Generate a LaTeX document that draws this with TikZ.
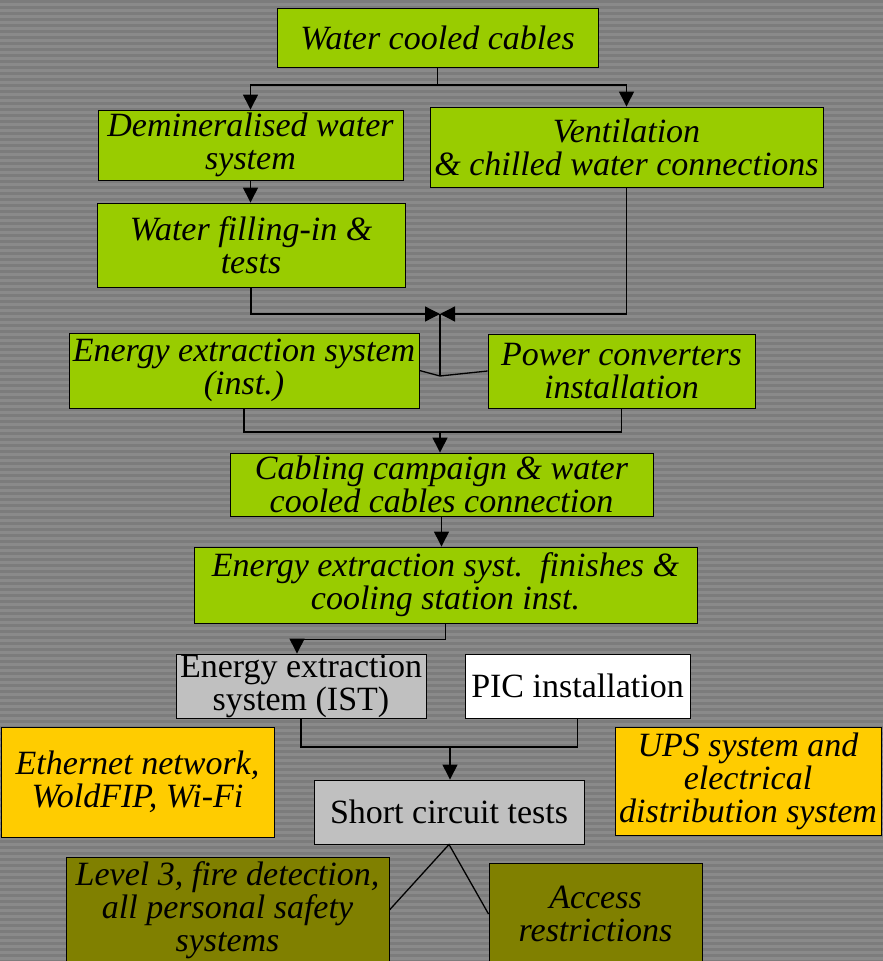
\documentclass[tikz,border=0pt]{standalone}
\usepackage{fontspec}
\setmainfont{Liberation Serif}
\usetikzlibrary{arrows.meta}
\definecolor{bgbase}{RGB}{138,138,138}
\definecolor{bgstripe}{RGB}{124,124,124}
\definecolor{lgreen}{RGB}{153,204,0}
\definecolor{lgray}{RGB}{192,192,192}
\definecolor{goldbox}{RGB}{255,204,0}
\definecolor{olivebox}{RGB}{128,128,0}
\tikzset{
  box/.style={draw=black, line width=0.9pt, inner sep=0pt, align=center,
    font=\fontsize{34}{33}\selectfont\itshape},
  gbox/.style={box, fill=lgreen},
  graybox/.style={box, fill=lgray, font=\fontsize{34}{33}\selectfont\upshape},
  whitebox/.style={box, fill=white, font=\fontsize{34}{33}\selectfont\upshape},
  ybox/.style={box, fill=goldbox},
  obox/.style={box, fill=olivebox},
  conn/.style={draw=black, line width=1.3pt},
  arr/.style={conn, -{Triangle[width=15pt,length=15pt]}}
}
\begin{document}
\begin{tikzpicture}[x=1pt,y=-1pt]
\useasboundingbox (0,0) rectangle (883,961);
\clip (0,0) rectangle (883,961);
\fill[bgbase] (0,0) rectangle (883,961);
\foreach \y in {0,6,...,960} \fill[bgstripe] (0,\y) rectangle (883,\y+2.5);

\node[gbox, minimum width=321pt, minimum height=59pt] (wcc) at (437.5,37.5) {Water cooled cables};
\node[gbox, minimum width=305pt, minimum height=70pt] (demin) at (250.5,145) {Demineralised water\\system};
\node[gbox, minimum width=393pt, minimum height=80pt] (vent) at (626.5,147) {Ventilation\\\& chilled water connections};
\node[gbox, minimum width=308pt, minimum height=84pt] (fill) at (251,245) {Water filling-in \&\\tests};
\node[gbox, minimum width=350pt, minimum height=75pt] (eext) at (244,370.5) {Energy extraction system\\(inst.)};
\node[gbox, minimum width=267pt, minimum height=74pt] (pconv) at (621.5,371) {Power converters\\installation};
\node[gbox, minimum width=423pt, minimum height=63pt] (cabl) at (441.5,484.5) {Cabling campaign \& water\\cooled cables connection};
\node[gbox, minimum width=503pt, minimum height=76pt] (fin) at (445.5,585) {Energy extraction syst.\ \ finishes \&\\cooling station inst.};
\node[graybox, minimum width=250pt, minimum height=64pt] (ist) at (301,686) {Energy extraction\\system (IST)};
\node[whitebox, minimum width=225pt, minimum height=64pt] (pic) at (577.5,686) {PIC installation};
\node[ybox, minimum width=273pt, minimum height=110pt] (eth) at (137.5,782) {Ethernet network,\\WoldFIP, Wi-Fi};
\node[ybox, minimum width=266pt, minimum height=108pt] (ups) at (748,781) {UPS system and\\electrical\\distribution system};
\node[graybox, minimum width=270pt, minimum height=64pt] (sct) at (449,812) {Short circuit tests};
\node[obox, minimum width=323pt, minimum height=106pt] (lvl) at (227.5,910) {Level 3, fire detection,\\all personal safety\\systems};
\node[obox, minimum width=213pt, minimum height=102pt] (acc) at (595.5,914) {Access\\restrictions};

% connectors
\coordinate (j1) at (437.5,85);
\draw[conn] (wcc.south) -- (j1);
\draw[arr] (j1) -| (demin.north);
\draw[arr] (j1) -| (vent.north);
\draw[arr] (demin.south) -- (demin.south |- fill.north);
\coordinate (m) at (440,314);
\coordinate (m2) at (440,376);
\draw[arr] (fill.south) |- (m);
\draw[arr] (vent.south) |- (m);
\draw[conn] (m) -- (m2);
\draw[conn] (eext.east) -- (m2) -- (pconv.west);
\coordinate (j3) at (440,432);
\draw[conn] (eext.south) |- (j3) -| (pconv.south);
\draw[arr] (j3) -- (j3 |- cabl.north);
\draw[arr] (cabl.south) -- (cabl.south |- fin.north);
\draw[arr] (fin.south) -- ++(0,16) -| ([xshift=-4pt]ist.north);
\coordinate (j5) at (450,747);
\draw[conn] (ist.south) |- (j5) -| (pic.south);
\draw[arr] (j5) -- (j5 |- sct.north);
\draw[conn] (lvl.east) -- (sct.south) -- (acc.west);
\end{tikzpicture}
\end{document}
